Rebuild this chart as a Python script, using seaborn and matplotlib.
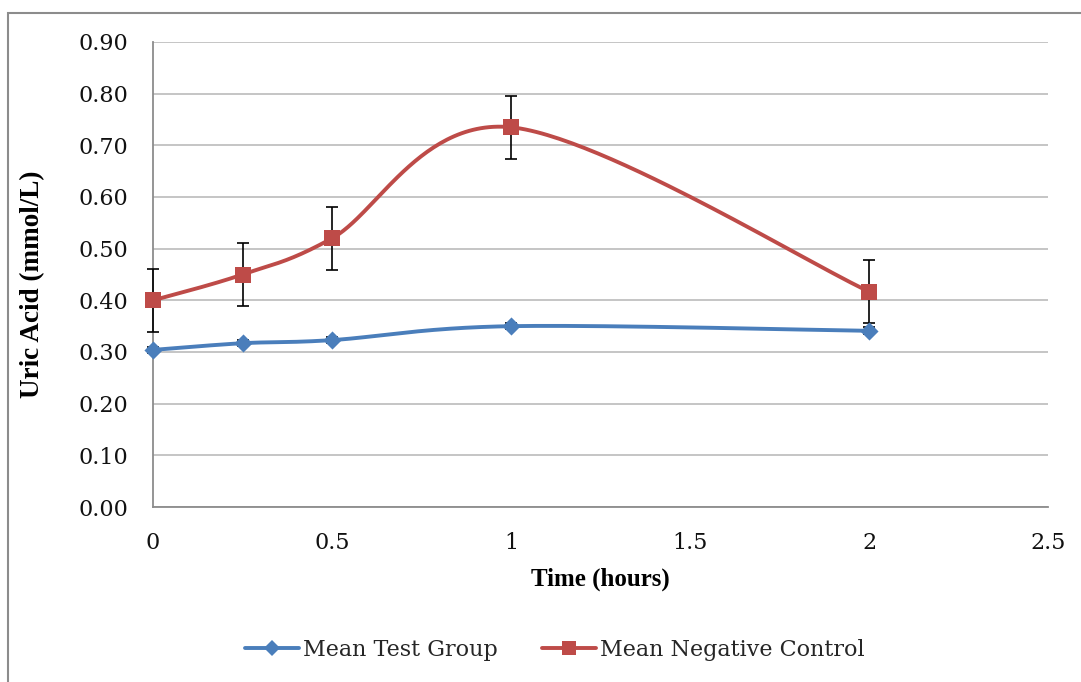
import numpy as np
import pandas as pd
import matplotlib
matplotlib.use("Agg")
from matplotlib import pyplot as plt
from matplotlib.lines import Line2D
from matplotlib.patches import Rectangle
import seaborn as sns

time_hours = [0, 0.25, 0.5, 1, 2]
test_mean = [0.304, 0.317, 0.323, 0.350, 0.341]
test_err = [0.006, 0.006, 0.006, 0.006, 0.007]
control_mean = [0.400, 0.450, 0.520, 0.735, 0.417]
control_err = [0.061, 0.061, 0.061, 0.061, 0.061]
series_names = ["Mean Test Group", "Mean Negative Control"]

BLUE = "#4a7ebb"
RED = "#be4b48"


def smooth(xs, ys, n=60):
    # Excel-like smoothed line: cubic Bezier through points, Catmull-Rom tangents
    p = np.column_stack([xs, ys]).astype(float)
    p = np.vstack([p[0], p, p[-1]])
    t = np.linspace(0, 1, n)[:, None]
    out = []
    for i in range(1, len(p) - 2):
        p0, p1, p2, p3 = p[i - 1], p[i], p[i + 1], p[i + 2]
        c1 = p1 + (p2 - p0) / 6
        c2 = p2 - (p3 - p1) / 6
        seg = ((1 - t) ** 3) * p1 + 3 * ((1 - t) ** 2) * t * c1 + 3 * (1 - t) * t ** 2 * c2 + t ** 3 * p2
        out.append(seg)
    out = np.vstack(out)
    return out[:, 0], out[:, 1]


sns.set_style("white")
plt.rcParams['font.family'] = ['DejaVu Serif']

fig = plt.figure(figsize=(10.81, 6.82), dpi=100)
ax = fig.add_axes([153 / 1081, 1 - 507 / 682, (1048 - 153) / 1081, (507 - 42) / 682])

# outer chart frame (cut off at right and bottom like the source image)
fig.patches.append(Rectangle((8 / 1081, -0.05), 1.2, 1 - 13 / 682 + 0.05, transform=fig.transFigure,
                             fill=False, edgecolor="#8c8c8c", linewidth=1.5, zorder=0))

df = pd.DataFrame({
    "time": time_hours * 2,
    "value": test_mean + control_mean,
    "err": test_err + control_err,
    "series": [series_names[0]] * len(time_hours) + [series_names[1]] * len(time_hours),
})

colors = {series_names[0]: BLUE, series_names[1]: RED}
markers = {series_names[0]: "D", series_names[1]: "s"}
sizes = {series_names[0]: 85, series_names[1]: 120}

for name, grp in df.groupby("series", sort=False):
    sx, sy = smooth(grp["time"].values, grp["value"].values)
    ax.plot(sx, sy, color=colors[name], lw=2.8, zorder=3, solid_capstyle="round", clip_on=False)
    eb = ax.errorbar(grp["time"], grp["value"], yerr=grp["err"], fmt="none", ecolor="black",
                     elinewidth=1.2, capsize=4.5, capthick=1.2, zorder=4)
    for art in eb.lines[1] + eb.lines[2]:
        art.set_clip_on(False)
    sns.scatterplot(data=grp, x="time", y="value", color=colors[name], marker=markers[name],
                    s=sizes[name], edgecolor=colors[name], linewidth=0, ax=ax, zorder=5,
                    legend=False, clip_on=False)

ax.set_xlim(0, 2.5)
ax.set_ylim(0, 0.9)
ax.set_xticks([0, 0.5, 1, 1.5, 2, 2.5])
ax.set_xticklabels(["0", "0.5", "1", "1.5", "2", "2.5"])
ax.set_yticks(np.arange(0, 0.91, 0.1))
ax.set_yticklabels([f"{v:.2f}" for v in np.arange(0, 0.91, 0.1)])
ax.tick_params(axis="both", length=0, labelsize=16, pad=18, labelcolor="#111111")
ax.yaxis.grid(True, color="#c0c0c0", lw=1.3)
ax.xaxis.grid(False)
for s in ["top", "right"]:
    ax.spines[s].set_visible(False)
for s in ["left", "bottom"]:
    ax.spines[s].set_color("#8c8c8c")
    ax.spines[s].set_linewidth(1.3)

ax.set_xlabel("Time (hours)", fontsize=18, fontweight="bold", labelpad=10, color="black",
              family=["Liberation Serif", "DejaVu Serif"])
ax.set_ylabel("Uric Acid (mmol/L)", fontsize=19.5, fontweight="bold", color="black",
              family=["Liberation Serif", "DejaVu Serif"])
ax.yaxis.set_label_coords(-0.12, 0.48)

handles = [
    Line2D([], [], color=BLUE, lw=2.8, marker="D", markersize=8.5, markeredgewidth=0),
    Line2D([], [], color=RED, lw=2.8, marker="s", markersize=10, markeredgewidth=0),
]
fig.legend(handles, series_names, loc="center", bbox_to_anchor=(555 / 1081, 1 - 650 / 682), ncol=2,
           frameon=False, fontsize=16, handlelength=2.4, handletextpad=0.2, columnspacing=2.0)

fig.savefig("out.png", dpi=100)
